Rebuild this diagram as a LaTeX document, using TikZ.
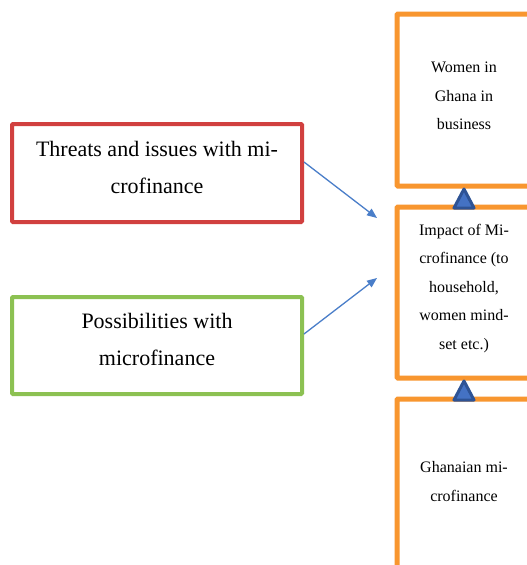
\documentclass[tikz,border=0pt]{standalone}
\usepackage{fontspec}
\setmainfont{Liberation Serif}
\usetikzlibrary{arrows.meta}
\definecolor{boxred}{HTML}{D1403F}
\definecolor{boxgreen}{HTML}{8CC152}
\definecolor{boxorange}{HTML}{F8962F}
\definecolor{arrowblue}{HTML}{4A7EC9}
\definecolor{trifill}{HTML}{4472C4}
\definecolor{triedge}{HTML}{2E5395}
\tikzset{
  leftbox/.style={draw, line width=4pt, rounded corners=1pt, minimum width=290pt, inner sep=0pt},
  orangebox/.style={draw=boxorange, line width=5pt, rounded corners=1pt, minimum width=134pt, inner sep=0pt},
  lefttext/.style={align=center, font=\fontsize{22}{37}\selectfont, inner sep=0pt},
  righttext/.style={align=center, font=\fontsize{16}{28.5}\selectfont, inner sep=0pt},
  link/.style={draw=arrowblue, line width=1.3pt, -{Triangle[length=10pt,width=8pt]}},
  uptri/.style={fill=trifill, draw=triedge, line width=3pt, line join=round}
}
\begin{document}
\begin{tikzpicture}[x=1pt,y=-1pt]
\clip (0,0) rectangle (527,565);
\fill[white] (0,0) rectangle (527,565);
% orange column
\node[orangebox, minimum height=172pt] (women) at (464,100) {};
\node[orangebox, minimum height=171pt] (impact) at (464,292.5) {};
\node[orangebox, minimum height=172pt] (ghana) at (464,485) {};
\node[righttext] (womenT) at (464,96) {Women in\\Ghana in\\business};
\node[righttext] (impactT) at (464,288.5) {Impact of Mi-\\crofinance (to\\household,\\women mind-\\set etc.)};
\node[righttext] (ghanaT) at (464,481.5) {Ghanaian mi-\\crofinance};
% left boxes
\node[leftbox, draw=boxred, minimum height=98pt] (threats) at (157,173) {};
\node[leftbox, draw=boxgreen, minimum height=97pt] (poss) at (157,345.5) {};
\node[lefttext] (threatsT) at (157,167.5) {Threats and issues with mi-\\crofinance};
\node[lefttext] (possT) at (157,339.5) {Possibilities with\\microfinance};
% arrows
\coordinate (endA) at (377,218);
\coordinate (endB) at (377,278);
\draw[link] (threats.east |- 0,162) -- (endA);
\draw[link] (poss.east |- 0,334) -- (endB);
% triangles between orange boxes
\draw[uptri] (454,208) -- (464,189) -- (474,208) -- cycle;
\draw[uptri] (454,400) -- (464,381) -- (474,400) -- cycle;
\end{tikzpicture}
\end{document}
